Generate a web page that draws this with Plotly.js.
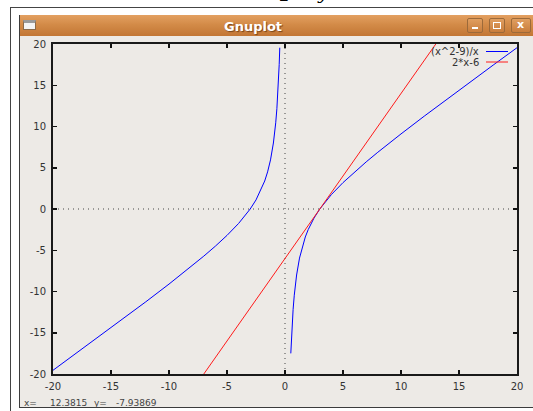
<!DOCTYPE html>
<html>
<head>
<meta charset="utf-8">
<script src="https://cdn.plot.ly/plotly-3.0.1.min.js"></script>
<style>
  html, body { margin:0; padding:0; width:533px; height:411px; overflow:hidden; background:#ffffff; }
  #outer { position:absolute; left:10px; top:7px; width:540px; height:420px; border-left:1px solid #444; border-top:1px solid #444; background:#fff; }
  #win { position:absolute; left:19px; top:15px; width:530px; height:392px; background:#edeae6; border-left:1px solid #3c3c3c; border-bottom:1px solid #3c3c3c; }
  #bar { position:absolute; left:19px; top:15px; width:530px; height:21px;
         background:linear-gradient(#e3a061, #d38b48 45%, #c27634); border-left:1px solid #3c3c3c; }
  #icon { position:absolute; left:23px; top:20px; width:13px; height:10px; background:#f4f4f4; border:1px solid #8a6a4a; border-top:3px solid #9a9a9a; box-sizing:border-box; }
  .btn { position:absolute; top:18px; width:16px; height:15px; border:1px solid #9c6a3a; border-radius:2px;
         background:linear-gradient(#e09e60, #c97e3c); box-sizing:border-box; }
  #plot { position:absolute; left:0; top:0; width:533px; height:411px; }
</style>
</head>
<body>
<div id="outer"></div>
<div id="win"></div>
<div id="bar"></div>
<div id="icon"></div>
<div class="btn" style="left:467px;"><div style="position:absolute;left:4px;top:8px;width:6px;height:2px;background:#fff;"></div></div>
<div class="btn" style="left:489px;"><div style="position:absolute;left:3px;top:3px;width:8px;height:7px;border:1px solid #fff;box-sizing:border-box;"></div></div>
<div class="btn" style="left:511px;width:20px;"><div style="position:absolute;left:5px;top:-1px;color:#fff;font:bold 11px 'DejaVu Sans';">x</div></div>
<div id="plot"></div>
<script>
// Data
const branchLeftX = [-20, -18, -16, -14, -12, -10, -9, -8, -7, -6, -5, -4, -3.5, -3, -2.5, -2, -1.75, -1.5, -1.25, -1, -0.9, -0.8, -0.7, -0.6, -0.5, -0.45];
const branchLeftY = [-19.55, -17.5, -15.44, -13.36, -11.25, -9.1, -8, -6.875, -5.71, -4.5, -3.2, -1.75, -0.93, 0, 1.1, 2.5, 3.39, 4.5, 5.95, 8, 9.1, 10.45, 12.16, 14.4, 17.5, 19.55];
const branchRightX = [0.5, 0.6, 0.7, 0.8, 0.9, 1, 1.25, 1.5, 1.75, 2, 2.5, 3, 3.5, 4, 5, 6, 7, 8, 9, 10, 12, 14, 16, 18, 20];
const branchRightY = [-17.5, -14.4, -12.16, -10.45, -9.1, -8, -5.95, -4.5, -3.39, -2.5, -1.1, 0, 0.93, 1.75, 3.2, 4.5, 5.71, 6.875, 8, 9.1, 11.25, 13.36, 15.44, 17.5, 19.55];
const lineX = [-7, 13];
const lineY = [-20, 20];
const tickVals = [-20, -15, -10, -5, 0, 5, 10, 15, 20];
const seriesNames = ["(x^2-9)/x", "2*x-6"];
const statusX = "12.3815";
const statusY = "-7.93869";

// plot-area pixel helpers (plot area x 53..517, y 44..374)
const PL = 53, PR = 517, PT = 44, PB = 374;
const px = v => (v - PL) / (PR - PL);
const py = v => (PB - v) / (PB - PT);

const blue = '#0000ff', red = '#ff1a1a';
const traces = [
  {x: branchLeftX.concat([null], branchRightX), y: branchLeftY.concat([null], branchRightY),
   mode: 'lines', line: {color: blue, width: 1}, connectgaps: false, hoverinfo: 'skip', name: seriesNames[0]},
  {x: lineX, y: lineY, mode: 'lines', line: {color: red, width: 1}, hoverinfo: 'skip', name: seriesNames[1]}
];

const font = {family: 'DejaVu Sans, sans-serif', size: 10, color: '#333'};
const sfont = {family: 'DejaVu Sans, sans-serif', size: 9, color: '#444'};
const axisCommon = {
  range: [-20, 20], tickvals: tickVals, ticktext: tickVals.map(String),
  ticks: 'inside', ticklen: 4, tickwidth: 1.5, tickcolor: '#111',
  showline: true, linecolor: '#1a1a1a', linewidth: 2, mirror: 'ticks',
  showgrid: false, zeroline: false, tickfont: font, fixedrange: true
};

const layout = {
  width: 533, height: 411,
  margin: {l: PL, r: 533 - PR, t: PT, b: 411 - PB, pad: 0},
  paper_bgcolor: 'rgba(0,0,0,0)', plot_bgcolor: 'rgba(0,0,0,0)',
  showlegend: false,
  xaxis: Object.assign({}, axisCommon, {ticklabelstandoff: 2}),
  yaxis: Object.assign({}, axisCommon, {ticklabelstandoff: 3}),
  shapes: [
    {type: 'line', xref: 'x', yref: 'paper', x0: 0, x1: 0, y0: 0, y1: 1, line: {color: '#444', width: 1, dash: '1px,4px'}, layer: 'below'},
    {type: 'line', xref: 'paper', yref: 'y', x0: 0, x1: 1, y0: 0, y1: 0, line: {color: '#444', width: 1, dash: '1px,4px'}, layer: 'below'},
    {type: 'line', xref: 'paper', yref: 'paper', x0: px(486), x1: px(508), y0: py(51.5), y1: py(51.5), line: {color: blue, width: 1}},
    {type: 'line', xref: 'paper', yref: 'paper', x0: px(486), x1: px(508), y0: py(62), y1: py(62), line: {color: red, width: 1}}
  ],
  annotations: [
    {xref: 'paper', yref: 'paper', x: px(481), y: py(51.5), xanchor: 'right', yanchor: 'middle', text: seriesNames[0], showarrow: false, font: font},
    {xref: 'paper', yref: 'paper', x: px(481), y: py(62), xanchor: 'right', yanchor: 'middle', text: seriesNames[1], showarrow: false, font: font},
    {xref: 'paper', yref: 'paper', x: px(253), y: py(26), xanchor: 'center', yanchor: 'middle', text: '<b>Gnuplot</b>', showarrow: false,
     font: {family: 'DejaVu Sans, sans-serif', size: 13, color: '#ffffff', shadow: '1px 1px 1px #7a4418'}},
    {xref: 'paper', yref: 'paper', x: px(22), y: py(403), xanchor: 'left', yanchor: 'middle', text: 'x=', showarrow: false, font: sfont},
    {xref: 'paper', yref: 'paper', x: px(89), y: py(403), xanchor: 'right', yanchor: 'middle', text: statusX, showarrow: false, font: sfont},
    {xref: 'paper', yref: 'paper', x: px(92), y: py(403), xanchor: 'left', yanchor: 'middle', text: 'y=', showarrow: false, font: sfont},
    {xref: 'paper', yref: 'paper', x: px(159), y: py(403), xanchor: 'right', yanchor: 'middle', text: statusY, showarrow: false, font: sfont},
    {xref: 'paper', yref: 'paper', x: px(284), y: py(-4), xanchor: 'center', yanchor: 'middle', text: '<i>2</i>', showarrow: false, font: {family: 'DejaVu Serif, serif', size: 16, color: '#000'}},
    {xref: 'paper', yref: 'paper', x: px(322), y: py(-7), xanchor: 'center', yanchor: 'middle', text: '<i>y</i>', showarrow: false, font: {family: 'DejaVu Serif, serif', size: 16, color: '#000'}}
  ]
};

Plotly.newPlot('plot', traces, layout, {displayModeBar: false, staticPlot: true});
</script>
</body>
</html>
